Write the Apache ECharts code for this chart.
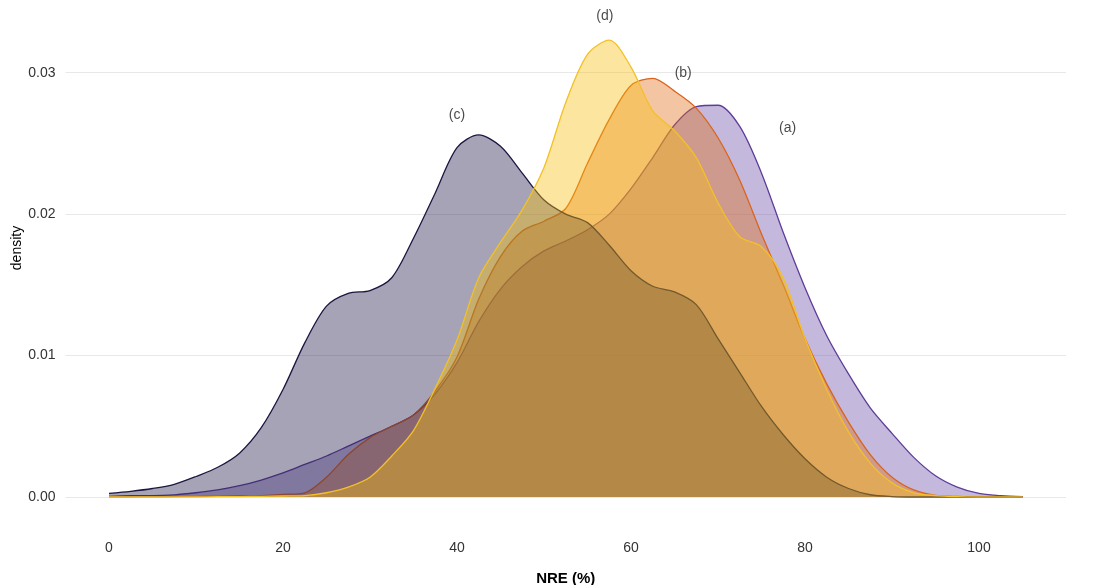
<!DOCTYPE html>
<html>
<head>
<meta charset="utf-8">
<script src="https://cdn.jsdelivr.net/npm/echarts@6/dist/echarts.min.js"></script>
<style>
  html, body { margin: 0; padding: 0; background: #ffffff; overflow: hidden; }
  #chart { width: 1114px; height: 585px; }
</style>
</head>
<body>
<div id="chart"></div>
<script>
// NRE (%) grid on which the kernel densities are evaluated
const nre = [0, 2.5, 5, 7.5, 10, 12.5, 15, 17.5, 20, 22.5, 25, 27.5, 30, 32.5, 35, 37.5, 40, 42.5, 45, 47.5,
  50, 52.5, 55, 57.5, 60, 62.5, 65, 67.5, 70, 72.5, 75, 77.5, 80, 82.5, 85, 87.5, 90, 92.5, 95, 97.5,
  100, 102.5, 105];

// density estimates for each group
const densA = [0.00005, 0.0001, 0.0001, 0.00015, 0.0003, 0.0005, 0.0008, 0.0012, 0.0017, 0.0023,
  0.0029, 0.0036, 0.0043, 0.0050, 0.0058, 0.0073, 0.0095, 0.0124, 0.0147, 0.0163,
  0.0174, 0.0181, 0.0189, 0.0200, 0.0218, 0.0240, 0.0263, 0.0276, 0.0277, 0.0262,
  0.0229, 0.0187, 0.0148, 0.0114, 0.0087, 0.0063, 0.0045, 0.0028, 0.0015, 0.0007,
  0.00025, 0.0001, 0.00002];
const densB = [0, 0, 0.00001, 0.00002, 0.00003, 0.00005, 0.00007, 0.0001, 0.00018, 0.0003,
  0.0014, 0.0030, 0.0042, 0.0050, 0.0058, 0.0075, 0.0099, 0.0140, 0.0170, 0.0188,
  0.0195, 0.0204, 0.0236, 0.0267, 0.0291, 0.0296, 0.0287, 0.0275, 0.0254, 0.0224,
  0.0186, 0.0150, 0.0112, 0.0080, 0.0053, 0.0030, 0.0014, 0.0005, 0.00012, 0.00004,
  0.00002, 0.00001, 0];
const densC = [0.00026, 0.0004, 0.0006, 0.0009, 0.00145, 0.0021, 0.0031, 0.0049, 0.0076, 0.0109,
  0.0135, 0.0144, 0.0146, 0.0155, 0.0183, 0.0215, 0.0247, 0.0256, 0.0248, 0.0229,
  0.0210, 0.0200, 0.0194, 0.0178, 0.0160, 0.0149, 0.0145, 0.0136, 0.0112, 0.0088,
  0.0064, 0.0044, 0.0027, 0.0014, 0.0006, 0.00016, 0.00003, 0, 0, 0,
  0, 0, 0];
const densD = [0, 0, 0, 0, 0.00001, 0.00002, 0.00003, 0.00005, 0.00007, 0.0001,
  0.0003, 0.0007, 0.0014, 0.0029, 0.0047, 0.0077, 0.0111, 0.0155, 0.0180, 0.0203,
  0.0233, 0.0279, 0.0313, 0.0323, 0.0304, 0.0273, 0.0259, 0.0240, 0.0208, 0.0184,
  0.0177, 0.0155, 0.0112, 0.0076, 0.0046, 0.0024, 0.0010, 0.0003, 0.0001, 0.00002,
  0, 0, 0];

// group labels and where they sit
const groupNames = ['(a)', '(b)', '(c)', '(d)'];
const labelX = [78, 66, 40, 57];
const labelY = [0.0261, 0.0300, 0.0270, 0.0340];

// axis ticks
const xTicks = [0, 20, 40, 60, 80, 100];
const yTicks = [0, 0.01, 0.02, 0.03];

const lineColors = ['#5e3c99', '#d9641c', '#1b1640', '#f3c028'];
const fillColors = ['#6b4ea7', '#e16e19', '#1e1946', '#f7be0c'];
const densities = [densA, densB, densC, densD];

const fontFamily = '"Liberation Sans", Arial, Helvetica, sans-serif';

const densitySeries = densities.map((d, i) => ({
  type: 'line',
  name: groupNames[i],
  data: nre.map((x, k) => [x, d[k]]),
  smooth: 0.3,
  showSymbol: false,
  symbol: 'none',
  z: 2 + i,
  lineStyle: { color: lineColors[i], width: 1.3 },
  areaStyle: { color: fillColors[i], opacity: 0.4, origin: 'start' },
  silent: true
}));

const labelSeries = {
  type: 'scatter',
  symbolSize: 0,
  z: 10,
  silent: true,
  data: groupNames.map((n, i) => ({ name: n, value: [labelX[i], labelY[i]] })),
  label: {
    show: true,
    position: 'inside',
    formatter: p => p.name,
    color: '#1a1a1a',
    fontSize: 14,
    fontFamily: fontFamily
  }
};

const chart = echarts.init(document.getElementById('chart'), null, { renderer: 'canvas' });
chart.setOption({
  animation: false,
  backgroundColor: '#ffffff',
  grid: { left: 65.5, right: 48, top: 2, bottom: 88, containLabel: false, outerBoundsMode: 'none' },
  // y-axis title, rotated along the left edge
  graphic: [{
    type: 'text',
    x: 17,
    y: 248,
    rotation: Math.PI / 2,
    silent: true,
    style: {
      text: 'density',
      fontFamily: fontFamily,
      fontSize: 14,
      fill: '#000000',
      textAlign: 'center',
      textVerticalAlign: 'middle'
    }
  }],
  xAxis: {
    type: 'value',
    min: -5,
    max: 110,
    name: 'NRE (%)',
    nameLocation: 'middle',
    nameGap: 74,
    nameTextStyle: { fontFamily: fontFamily, fontSize: 15, fontWeight: 'bold', color: '#000000' },
    axisLine: { show: false },
    axisTick: { show: false, customValues: xTicks },
    splitLine: { show: false },
    axisLabel: {
      customValues: xTicks,
      margin: 44,
      fontFamily: fontFamily,
      fontSize: 14,
      color: '#333333'
    }
  },
  yAxis: {
    type: 'value',
    min: 0,
    max: 0.035,
    axisLine: { show: false },
    axisTick: { show: false, customValues: yTicks },
    splitLine: { show: true, lineStyle: { color: '#e8e8e8', width: 1.2 } },
    axisLabel: {
      customValues: yTicks,
      margin: 10,
      fontFamily: fontFamily,
      fontSize: 14,
      color: '#333333',
      formatter: v => v.toFixed(2)
    }
  },
  series: [...densitySeries, labelSeries]
});
</script>
</body>
</html>
